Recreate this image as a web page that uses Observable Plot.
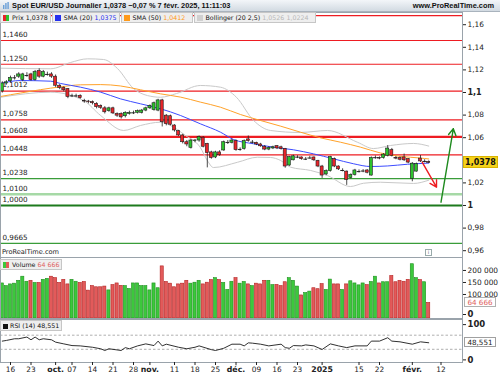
<!DOCTYPE html>
<html><head><meta charset="utf-8">
<script src="https://cdn.jsdelivr.net/npm/d3@7"></script>
<script src="https://cdn.jsdelivr.net/npm/@observablehq/plot@0.6"></script>
<style>
html,body{margin:0;padding:0;}
body{width:500px;height:375px;position:relative;overflow:hidden;background:#fff;font-family:"DejaVu Sans",Verdana,sans-serif;color:#111;}
.pl{position:absolute;left:0;}
#title{position:absolute;left:0;top:0;width:500px;height:11px;background:linear-gradient(#f3f6f9,#d2dae2);border-bottom:1px solid #a9b3bd;}
#title .t{position:absolute;left:12px;top:0;font-family:"Liberation Sans",Arial,sans-serif;font-size:7.4px;font-weight:bold;line-height:11px;white-space:nowrap;}
#title .w{position:absolute;right:6px;top:0;font-family:"Liberation Sans",Arial,sans-serif;font-size:7.4px;font-weight:bold;line-height:11px;white-space:nowrap;}
#title .ic{position:absolute;left:3px;top:2px;width:6px;height:7px;}
.legrow{position:absolute;left:0;display:flex;gap:1px;}
.leg{height:11px;line-height:10px;font-size:6.3px;background:#eeeeee;border:1px solid #c6c6c6;white-space:nowrap;padding:0 2px 0 2px;box-sizing:border-box;}
.sw{display:inline-block;width:6px;height:6px;vertical-align:-1px;margin-right:3px;}
.tag{position:absolute;white-space:nowrap;box-sizing:border-box;text-align:center;}
.small{position:absolute;font-size:6.6px;white-space:nowrap;color:#222;}
</style></head><body>
<script>
// ---------- DATA ----------
// trading-day index (0 = 16 sept. 2024), candles from 12 sept. 2024 to 7 févr. 2025
const firstIdx = -2;
const opens = [1.101,1.108,1.110,1.113,1.114,1.111,1.115,1.116,1.111,1.119,1.114,1.116,1.116,1.114,1.106,1.104,1.103,1.097,1.097,1.097,1.0925,1.092,1.0915,1.090,1.088,1.086,1.0835,1.086,1.081,1.081,1.079,1.081,1.082,1.082,1.082,1.084,1.086,1.0845,1.084,1.093,1.0795,1.079,1.0708,1.0658,1.062,1.056,1.051,1.057,1.0575,1.060,1.0546,1.047,1.0425,1.047,1.0487,1.0558,1.0555,1.057,1.0496,1.050,1.0585,1.056,1.0555,1.054,1.052,1.0495,1.0505,1.0525,1.0515,1.050,1.0354,1.040,1.0428,1.0425,1.041,1.042,1.0425,1.0395,1.0345,1.0275,1.0304,1.041,1.0345,1.031,1.030,1.0245,1.027,1.030,1.0305,1.031,1.0265,1.0423,1.042,1.042,1.044,1.049,1.042,1.042,1.0425,1.041,1.0236,1.030,1.0415,1.039,1.0385];
const closes = [1.108,1.109,1.113,1.113,1.116,1.116,1.115,1.111,1.118,1.114,1.118,1.116,1.114,1.106,1.104,1.102,1.096,1.097,1.097,1.095,1.092,1.0915,1.0905,1.087,1.0865,1.0825,1.086,1.0815,1.0795,1.078,1.082,1.082,1.082,1.0835,1.084,1.086,1.088,1.0905,1.093,1.0737,1.072,1.0715,1.0664,1.062,1.056,1.054,1.0575,1.0575,1.0605,1.052,1.0463,1.042,1.047,1.0445,1.056,1.0558,1.0575,1.049,1.0496,1.057,1.057,1.056,1.054,1.0524,1.0495,1.051,1.0515,1.0505,1.050,1.0345,1.0428,1.0435,1.0428,1.041,1.041,1.042,1.040,1.0345,1.0265,1.0305,1.0428,1.0345,1.032,1.031,1.0227,1.027,1.031,1.030,1.0305,1.029,1.042,1.0423,1.0415,1.045,1.0504,1.044,1.0415,1.0405,1.040,1.038,1.037,1.0367,1.039,1.039,1.0378];
const highs = [1.1095,1.1105,1.1145,1.115,1.1175,1.117,1.1175,1.117,1.1195,1.121,1.1195,1.118,1.1175,1.1155,1.107,1.105,1.1035,1.0985,1.0985,1.098,1.094,1.093,1.0925,1.091,1.089,1.0875,1.087,1.087,1.082,1.082,1.083,1.0835,1.0835,1.0845,1.085,1.087,1.089,1.0915,1.094,1.094,1.0805,1.080,1.0715,1.0665,1.063,1.0575,1.0585,1.0585,1.0615,1.061,1.055,1.048,1.048,1.0485,1.057,1.0575,1.0585,1.058,1.051,1.058,1.0615,1.0575,1.056,1.055,1.053,1.052,1.0525,1.053,1.0525,1.0505,1.0435,1.0445,1.044,1.043,1.0425,1.0435,1.043,1.040,1.0355,1.0315,1.0435,1.042,1.035,1.0325,1.0305,1.028,1.032,1.0315,1.0318,1.0318,1.043,1.0438,1.043,1.046,1.053,1.0505,1.0435,1.043,1.0455,1.0415,1.038,1.0375,1.0442,1.0405,1.0395];
const lows = [1.0995,1.1065,1.1085,1.111,1.1125,1.1095,1.1135,1.110,1.110,1.1125,1.113,1.1145,1.1125,1.1045,1.1025,1.1005,1.0945,1.0955,1.0955,1.094,1.0905,1.090,1.089,1.0855,1.085,1.081,1.0825,1.0805,1.078,1.0765,1.0775,1.080,1.0805,1.081,1.081,1.083,1.085,1.0835,1.083,1.0695,1.0705,1.0705,1.065,1.061,1.0545,1.052,1.050,1.0555,1.056,1.051,1.0333,1.041,1.0415,1.0435,1.048,1.054,1.0545,1.048,1.048,1.049,1.056,1.0545,1.053,1.0515,1.0485,1.0485,1.0495,1.0495,1.049,1.033,1.0345,1.0395,1.0415,1.040,1.0398,1.041,1.039,1.0335,1.024,1.0265,1.0295,1.0335,1.031,1.0298,1.0178,1.0235,1.026,1.0288,1.029,1.028,1.026,1.041,1.0405,1.041,1.043,1.043,1.0405,1.0395,1.039,1.037,1.021,1.0295,1.038,1.0378,1.0372];
const volumes = [146000,135000,142000,145000,157000,174000,153000,157000,148000,148000,161000,165000,174000,168000,148000,161000,142000,161000,153000,148000,152000,116000,135000,130000,130000,133000,117000,139000,146000,136000,135000,123000,146000,146000,135000,135000,117000,146000,126000,217000,152000,145000,130000,142000,145000,157000,145000,149000,157000,142000,149000,160000,168000,160000,148000,119000,153000,168000,145000,152000,142000,135000,145000,142000,157000,157000,139000,140000,135000,151000,168000,157000,133000,96000,106000,112000,126000,122000,143000,119000,162000,142000,142000,119000,142000,155000,146000,138000,146000,139000,152000,174000,146000,151000,151000,177000,151000,157000,153000,161000,226000,168000,160000,151000,64666];
// indicators read at sample points (trading-day index, value)
const sma20Idx = [-2.4,2.4,9.8,12.2,17.1,22,26.8,31.7,36.6,41.5,46.3,51.2,54.4,59.3,64.1,69,73.9,78.8,83.7,87.8,92,96.8,102];
const sma20Val = [1.108,1.1106,1.110,1.108,1.1047,1.1003,1.0944,1.090,1.0856,1.0796,1.0723,1.0649,1.0584,1.0546,1.0516,1.0493,1.0457,1.0413,1.0369,1.0345,1.0350,1.0365,1.0375];
const sma50Idx = [-2.4,2.4,7.3,12.2,17.1,22,26.8,31.7,36.6,41.5,46.3,51.2,56.1,61,65.9,70.7,75.6,80.5,85.4,90.2,95.1,100,102];
const sma50Val = [1.0965,1.0995,1.1025,1.1050,1.1068,1.1070,1.1058,1.1024,1.0988,1.0959,1.0915,1.087,1.0805,1.0752,1.0702,1.0649,1.0599,1.056,1.0516,1.0465,1.0435,1.042,1.0412];
const bbUpIdx = [-2.4,9.8,14.6,18.8,22.7,26.1,30,33.4,36.6,40.5,46.3,51.2,55.1,59.3,63.4,70.7,77.3,84.6,88.5,92.7,98.3,102];
const bbUpVal = [1.1215,1.1210,1.1265,1.1298,1.1292,1.1212,1.1035,1.0973,1.0958,1.0991,1.1062,1.1047,1.0958,1.0752,1.0664,1.0646,1.0664,1.0560,1.0504,1.0531,1.0549,1.0526];
const bbLoIdx = [-2.4,9.8,17.8,22,27.6,31.7,36.6,39,42.7,46.3,48,49.5,55.4,60.2,63.4,65.9,68.3,73.2,77.3,82.9,86.1,90.2,98.3,102];
const bbLoVal = [1.0958,1.1003,1.0929,1.0796,1.0664,1.0708,1.0737,1.0708,1.0619,1.0513,1.0398,1.0336,1.0383,1.0427,1.0425,1.0398,1.0339,1.0310,1.0265,1.0168,1.0197,1.0206,1.0195,1.0224];
const rsiIdx = [-2,-1,1,2,4,5,6,7,8,10,11,13,15,17,20,22,23,24,27,28,29,31,33,35,36,37,38,41,43,45,46,49,50,52,54,56,57,58,59,61,63,66,67,68,69,71,72,74,76,78,80,82,84,87,88,90,92,93,95,98,100,102];
const rsiVal = [53.2,55.1,59.9,59.9,64.7,57,64.7,57,59.9,57,50.3,45.4,40.6,39.7,35.8,31.5,26.6,31.5,26.6,34.8,31.5,39.7,45.4,40.6,53.2,39.7,44.5,35.8,31.5,35.8,39.7,29,26.6,32.9,44.5,44.5,39.7,48.3,47.4,44.5,39.7,44.5,34.8,32.9,40.6,39.7,42.5,39.7,29.5,45.4,39.7,34.8,39.7,39.7,53.2,53.2,62.8,53.2,51.2,44.5,51.2,48.551];
// horizontal levels (the top one's label is hidden behind the legend in the reference)
const levels = [1.1680,1.1460,1.1250,1.1012,1.0758,1.0608,1.0448,1.0238,1.0100,1.0000,0.9665];
const levelLabels = ["","1,1460","1,1250","1,1012","1,0758","1,0608","1,0448","1,0238","1,0100","1,0000","0,9665"];
const levelKind = ["res","res","res","res","res","resMajor","res","sup","supLight","supMajor","sup"];
// arrows (scenario)
const arrowDown = {i1:100.4, v1:1.0383, i2:103.9, v2:1.0162};
const arrowUp = {i1:105.0, v1:1.0029, i2:108.0, v2:1.0679};
// x axis
const tickIdx = [0,5,11,15,20,25,30,34,40,45,50,55,60,65,70,76,85,90,98,105];
const tickLabels = ["16","23","oct.","07","14","21","28","nov.","11","18","25","déc.","09","16","23","2025","15","22","févr.","12"];
const tickIsMonth = [false,false,true,false,false,false,false,true,false,false,false,true,false,false,false,true,false,false,true,false];
const mainTicks = [0.96,0.98,1.02,1.06,1.08,1.12,1.14,1.16];
const mainBoldTicks = [1,1.1];
const volTicks = [100000,150000,200000];
const rsiDashed = [70,30];
const lastPrice = 1.0378, lastVol = 64666, lastRsi = 48.551;

// ---------- BUILD ----------
const candles = opens.map((o,k)=>({i:firstIdx+k,o,c:closes[k],h:highs[k],l:lows[k],v:volumes[k]}));
const isUp = d => d.c >= d.o;
const isDoji = d => Math.abs(d.o-d.c) < 0.0004;
const zip = (a,b) => a.map((x,k)=>({i:x,v:b[k]}));
const GREEN="#2dc22d", RED="#e8242a", EDGE="#1e1e1e";
const levelStyle = {res:["#ee1c22",1.1],resMajor:["#ee1c22",2.2],sup:["#3a9d3a",1.1],supLight:["#a6d9a6",2.6],supMajor:["#1d7a1d",2.2]};
const fmtComma = v => String(v).replace(".",",");
const xDom = [-2.44,110.24];
const baseStyle = {fontFamily:"DejaVu Sans, Verdana, sans-serif",fontSize:"7.4px",background:"transparent",color:"#222",overflow:"visible"};

const mainTop = 12, volTop = 257, rsiTop = 319;

const levelData = levels.map((v,k)=>({v,k:levelKind[k],t:levelLabels[k]}));
const main = Plot.plot({
  width:500,height:245,marginTop:0,marginBottom:0,marginLeft:0,marginRight:38,
  x:{type:"linear",domain:xDom,axis:null},
  y:{domain:[0.95398,1.1708],axis:null},
  style:baseStyle,
  marks:[
    Plot.ruleY(levelData,{y:"v",stroke:d=>levelStyle[d.k][0],strokeWidth:d=>levelStyle[d.k][1]}),
    Plot.text(levelData.filter(d=>d.t),{y:"v",text:"t",frameAnchor:"left",textAnchor:"start",dx:2,dy:-6,fill:"#222",fontSize:7.2}),
    Plot.line(zip(bbUpIdx,bbUpVal),{x:"i",y:"v",stroke:"#c9c9c9",strokeWidth:1,curve:"monotone-x"}),
    Plot.line(zip(bbLoIdx,bbLoVal),{x:"i",y:"v",stroke:"#c9c9c9",strokeWidth:1,curve:"monotone-x"}),
    Plot.line(zip(sma50Idx,sma50Val),{x:"i",y:"v",stroke:"#ffa22a",strokeWidth:1,curve:"monotone-x"}),
    Plot.line(zip(sma20Idx,sma20Val),{x:"i",y:"v",stroke:"#3d4cff",strokeWidth:1,curve:"monotone-x"}),
    Plot.ruleX(candles,{x:"i",y1:"l",y2:"h",stroke:EDGE,strokeWidth:0.8}),
    Plot.rect(candles.filter(d=>!isDoji(d)),{x1:d=>d.i-0.37,x2:d=>d.i+0.37,y1:"o",y2:"c",fill:d=>isUp(d)?GREEN:RED,stroke:EDGE,strokeWidth:0.6}),
    Plot.ruleY(candles.filter(isDoji),{y:"c",x1:d=>d.i-0.45,x2:d=>d.i+0.45,stroke:EDGE,strokeWidth:1}),
    Plot.arrow([arrowDown],{x1:"i1",y1:"v1",x2:"i2",y2:"v2",stroke:"#ee1c22",strokeWidth:1.4,headLength:8}),
    Plot.arrow([arrowUp],{x1:"i1",y1:"v1",x2:"i2",y2:"v2",stroke:"#1e8a1e",strokeWidth:1.4,headLength:8}),
    Plot.frame({stroke:"#9aa3ab"}),
    Plot.axisY({anchor:"right",ticks:mainTicks,tickFormat:fmtComma,tickSize:3,tickPadding:2,label:null}),
    Plot.axisY({anchor:"right",ticks:mainBoldTicks,tickFormat:fmtComma,tickSize:3,tickPadding:2,label:null,fontWeight:"bold",fontSize:8})
  ]
});
main.classList.add("pl"); main.style.top = mainTop+"px";
document.body.appendChild(main);

const vol = Plot.plot({
  width:500,height:62,marginTop:0,marginBottom:1,marginLeft:0,marginRight:38,
  x:{type:"linear",domain:xDom,axis:null},
  y:{domain:[0,254000],axis:null},
  style:baseStyle,
  marks:[
    Plot.rectY(candles,{x1:d=>d.i-0.38,x2:d=>d.i+0.38,y:"v",fill:d=>isUp(d)?"#3cc83c":"#e35a5a",stroke:d=>isUp(d)?"#1f8f1f":"#b42222",strokeWidth:0.6}),
    Plot.frame({stroke:"#9aa3ab"}),
    Plot.axisY({anchor:"right",ticks:volTicks,tickFormat:v=>d3.format(",")(v).replace(/,/g," "),tickSize:3,tickPadding:2,label:null}),
    Plot.axisY({anchor:"right",ticks:[0],tickSize:3,tickPadding:2,label:null,fontWeight:"bold",fontSize:8.5,dy:-4})
  ]
});
vol.classList.add("pl"); vol.style.top = volTop+"px";
document.body.appendChild(vol);

const rsi = Plot.plot({
  width:500,height:56,marginTop:0,marginBottom:13,marginLeft:0,marginRight:38,
  x:{type:"linear",domain:xDom,axis:null},
  y:{domain:[-7.4,114.5],axis:null},
  style:baseStyle,
  marks:[
    Plot.ruleY(rsiDashed,{stroke:"#9a9a9a",strokeDasharray:"2.5,2",strokeWidth:0.8}),
    Plot.line(zip(rsiIdx,rsiVal),{x:"i",y:"v",stroke:"#1a1a1a",strokeWidth:0.9}),
    Plot.frame({stroke:"#9aa3ab"}),
    Plot.axisY({anchor:"right",ticks:[0,100],tickSize:3,tickPadding:2,label:null,fontWeight:"bold",fontSize:8.5}),
    Plot.axisX({anchor:"bottom",ticks:tickIdx.filter((d,k)=>!tickIsMonth[k]),tickFormat:d=>tickLabels[tickIdx.indexOf(d)],tickSize:3,tickPadding:1,label:null,fontSize:7.4}),
    Plot.axisX({anchor:"bottom",ticks:tickIdx.filter((d,k)=>tickIsMonth[k]),tickFormat:d=>tickLabels[tickIdx.indexOf(d)],tickSize:3,tickPadding:1,label:null,fontWeight:"bold",fontSize:7.8})
  ]
});
rsi.classList.add("pl"); rsi.style.top = rsiTop+"px";
document.body.appendChild(rsi);

// ---------- overlays ----------
function el(html){const d=document.createElement("div");d.innerHTML=html;const n=d.firstElementChild;document.body.appendChild(n);return n;}
el(`<div id="title"><svg class="ic" viewBox="0 0 6 7"><rect x="0" y="3" width="1.4" height="4" fill="#6aa0d8"/><rect x="2.2" y="1" width="1.4" height="6" fill="#6aa0d8"/><rect x="4.4" y="0" width="1.4" height="7" fill="#6aa0d8"/></svg><span class="t">Spot EUR/USD Journalier 1,0378 −0,07 % 7 févr. 2025, 11:11:03</span><span class="w">www.ProRealTime.com</span></div>`);
el(`<div class="legrow" style="top:${mainTop}px">
 <div class="leg" style="min-width:50px"><span class="sw" style="background:linear-gradient(90deg,#e8242a 50%,#2dc22d 50%)"></span>Prix 1,0378</div>
 <div class="leg" style="min-width:66px"><span class="sw" style="background:#2430ee"></span>SMA (20) <span style="color:#2430ee">1,0375</span></div>
 <div class="leg" style="min-width:72px"><span class="sw" style="background:#ff9a1a"></span>SMA (50) <span style="color:#ff9a1a">1,0412</span></div>
 <div class="leg" style="min-width:122px"><span class="sw" style="background:#d0d0d0"></span>Bollinger (20 2,5) <span style="color:#b8b8b8">1,0526 1,0224</span></div>
</div>`);
el(`<div class="small" style="left:2px;top:248px">ProRealTime.com</div>`);
el(`<div style="position:absolute;left:425px;top:249px;width:7px;height:7px;border:1px solid #9aa;box-sizing:border-box;font-size:5px;line-height:5px;text-align:center;color:#667">i</div>`);
el(`<div class="legrow" style="top:${volTop+2}px"><div class="leg" style="min-width:62px"><span class="sw" style="background:linear-gradient(90deg,#3cc83c 50%,#e35a5a 50%)"></span>Volume <span style="color:#e06262">64 666</span></div></div>`);
el(`<div class="legrow" style="top:${rsiTop+1}px"><div class="leg" style="min-width:62px"><span class="sw" style="background:#111;width:5px;height:5px;margin-right:2px"></span>RSI (14) 48,551</div></div>`);

const yMain = main.scale("y").apply(lastPrice) + mainTop;
el(`<div class="tag" style="left:463px;top:${yMain-6}px;width:35px;height:12px;line-height:12px;background:#f6d21a;border:1px solid #d9b400;font-weight:bold;font-size:8px">1,0378</div>`);
const yVol = vol.scale("y").apply(lastVol) + volTop;
el(`<div class="tag" style="left:464px;top:${yVol-5}px;width:32px;height:10px;line-height:9px;background:#fff;border:1px solid #b0b0b0;color:#e06262;font-size:7.2px">64 666</div>`);
const yRsi = rsi.scale("y").apply(lastRsi) + rsiTop;
el(`<div class="tag" style="left:464px;top:${yRsi-5}px;width:32px;height:10px;line-height:9px;background:#fff;border:1px solid #a0a0a0;color:#222;font-size:7.2px">48,551</div>`);
</script>
</body></html>
